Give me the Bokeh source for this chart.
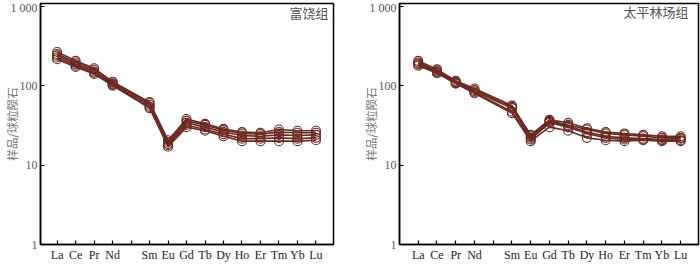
import math
from bokeh.plotting import figure
from bokeh.models import Range1d, FixedTicker, CustomJSTickFormatter, Label
from bokeh.layouts import row
from bokeh.embed import file_html
from bokeh.resources import INLINE

# ---- data ----
elements = ["La", "Ce", "Pr", "Nd", "Pm", "Sm", "Eu", "Gd", "Tb", "Dy", "Ho", "Er", "Tm", "Yb", "Lu"]
plotted = ["La", "Ce", "Pr", "Nd", "Sm", "Eu", "Gd", "Tb", "Dy", "Ho", "Er", "Tm", "Yb", "Lu"]
y_ticks = [1, 10, 100, 1000]
y_tick_labels = ["1", "10", "100", "1 000"]
y_title = "样品/球粒陨石"

furao_title = "富饶组"
furao_1 = [265, 205, 165, 112, 62, 20.5, 38, 33, 28.5, 26, 25.5, 28, 27, 27]
furao_2 = [250, 195, 158, 110, 60, 19.5, 36, 32, 27.5, 25, 24.5, 26, 25.5, 25.5]
furao_3 = [240, 186, 150, 106, 57, 18.5, 34, 30, 26, 23.5, 23, 24, 23.5, 24]
furao_4 = [226, 178, 145, 103, 54, 17.8, 32, 28, 24.5, 21.5, 21.5, 22, 21.5, 22]
furao_5 = [215, 172, 140, 100, 52, 17, 30, 27, 23, 20, 20, 20, 20, 20.5]

taiping_title = "太平林场组"
taiping_1 = [205, 160, 115, 92, 56, 24, 37, 34, 29, 26, 25, 24, 23, 23]
taiping_2 = [195, 155, 112, 88, 54, 23, 36, 32, 28, 25, 24, 23, 22, 22]
taiping_3 = [190, 150, 110, 85, 52, 22, 35, 31, 26, 23, 22, 21.5, 21, 21.5]
taiping_4 = [185, 147, 108, 82, 47, 21, 34, 30, 25, 22, 21, 21, 20.5, 20.5]
taiping_5 = [178, 143, 106, 80, 45, 20, 30, 27, 22, 20.5, 20, 20.5, 20, 20]

COLOR = "#6b2a22"
SERIF = "Liberation Serif"
CJK = "Noto Sans CJK SC"

x_labels = [e if e != "Pm" else "" for e in elements]
x_pos = [elements.index(e) + 1 for e in plotted]


def make_panel(samples, title, x_start, min_left, min_right, min_top, min_bottom,
               ylab_standoff, title_dx, title_dy):
    p = figure(width=350, height=264, y_axis_type="log",
               x_range=Range1d(x_start, 15.95), y_range=Range1d(1, 1080),
               output_backend="svg", toolbar_location=None,
               min_border_left=min_left, min_border_right=min_right,
               min_border_top=min_top, min_border_bottom=min_bottom)
    p.outline_line_color = "black"
    p.outline_line_width = 1.5
    p.outline_line_alpha = 1
    p.grid.visible = False
    p.background_fill_color = "white"
    p.border_fill_color = "white"

    xa = p.xaxis[0]
    xa.ticker = FixedTicker(ticks=list(range(1, len(elements) + 1)), minor_ticks=[])
    xa.formatter = CustomJSTickFormatter(args=dict(xl=x_labels), code="""
        const i = Math.round(tick) - 1;
        return (i >= 0 && i < xl.length) ? xl[i] : "";
    """)
    ya = p.yaxis[0]
    ya.ticker = FixedTicker(ticks=y_ticks, minor_ticks=[])
    ya.formatter = CustomJSTickFormatter(args=dict(yt=y_ticks, yl=y_tick_labels), code="""
        for (let k = 0; k < yt.length; k++) {
            if (Math.abs(Math.log10(tick) - Math.log10(yt[k])) < 1e-6) return yl[k];
        }
        return "";
    """)
    for ax in (xa, ya):
        ax.axis_line_color = "black"
        ax.axis_line_width = 1.5
        ax.major_tick_line_color = "black"
        ax.major_tick_line_width = 1.2
        ax.major_tick_in = 4
        ax.major_tick_out = 0
        ax.minor_tick_line_color = None
        ax.major_label_text_font = SERIF
        ax.major_label_text_font_size = "12px"
    xa.major_label_text_color = "#222222"
    xa.major_label_standoff = 3
    ya.major_label_text_color = "#555555"
    ya.major_label_standoff = 3

    ya.axis_label = y_title
    ya.axis_label_text_font = CJK
    ya.axis_label_text_font_size = "11.5px"
    ya.axis_label_text_font_style = "normal"
    ya.axis_label_text_color = "#777777"
    ya.axis_label_standoff = ylab_standoff

    for s in samples:
        p.line(x_pos, s, line_color=COLOR, line_width=1.6)
        p.scatter(x_pos, s, marker="circle", size=9, fill_color=None,
                  line_color=COLOR, line_width=1.1)

    p.add_layout(Label(x=title_dx, y=title_dy, x_units="screen", y_units="screen",
                       text=title, text_align="right", text_baseline="middle",
                       text_font=CJK, text_font_size="13px", text_color="#555555"))
    return p


p1 = make_panel([furao_1, furao_2, furao_3, furao_4, furao_5], furao_title,
                0.1, 35, 17, 2, 17, -12, 288, 232)
p2 = make_panel([taiping_1, taiping_2, taiping_3, taiping_4, taiping_5], taiping_title,
                0.0, 49, 2, 3, 16, -12, 289, 233)

layout = row(p1, p2, spacing=0)
open("out.html", "w").write(file_html(layout, INLINE))
